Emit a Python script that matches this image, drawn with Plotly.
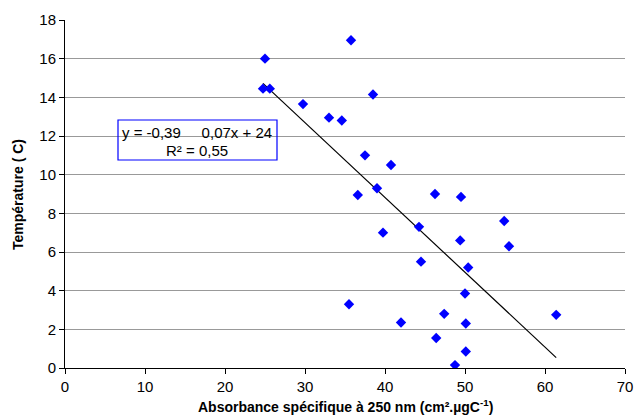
import plotly.graph_objects as go

absorbance = [25.0, 35.75, 24.75, 25.6, 38.5, 29.75, 33.0, 34.6, 37.5, 40.75,
              39.0, 36.6, 46.25, 49.5, 54.9, 39.75, 44.25, 49.4, 55.5, 44.5,
              50.4, 50.0, 35.5, 47.4, 61.4, 42.0, 50.1, 46.4, 50.1, 48.75]
temperature = [16.0, 16.95, 14.45, 14.45, 14.15, 13.65, 12.95, 12.8, 11.0, 10.5,
               9.3, 8.95, 9.0, 8.85, 7.6, 7.0, 7.3, 6.6, 6.3, 5.5,
               5.2, 3.85, 3.3, 2.8, 2.75, 2.35, 2.3, 1.55, 0.85, 0.15]
trend_slope = -0.387
trend_intercept = 24.3
x_ticks = [0, 10, 20, 30, 40, 50, 60, 70]
y_ticks = [0, 2, 4, 6, 8, 10, 12, 14, 16, 18]

x_min, x_max = min(absorbance), max(absorbance)
trend_x = [x_min, x_max]
trend_y = [trend_slope * v + trend_intercept for v in trend_x]

font = "Liberation Sans, Arial, sans-serif"
W, H = 635, 416
L, R, T, B = 65, 625, 20, 368

fig = go.Figure()
fig.add_trace(go.Scatter(x=trend_x, y=trend_y, mode="lines",
                         line=dict(color="black", width=1.2), hoverinfo="skip"))
fig.add_trace(go.Scatter(x=absorbance, y=temperature, mode="markers",
                         marker=dict(symbol="diamond", color="#0000FF", size=8,
                                     line=dict(width=0))))

fig.update_layout(
    width=W, height=H,
    margin=dict(l=L, r=W - R, t=T, b=H - B, autoexpand=False),
    paper_bgcolor="white", plot_bgcolor="white",
    showlegend=False,
    font=dict(family=font, size=15, color="black"),
    xaxis=dict(range=[0, 70], tickvals=x_ticks, showgrid=False, zeroline=False,
               showline=True, linecolor="black", linewidth=1, automargin=False,
               ticks="outside", ticklen=5, tickcolor="black",
               ticklabeloverflow="allow",
               tickfont=dict(size=15)),
    yaxis=dict(range=[0, 18], tickvals=y_ticks, showgrid=True, gridcolor="#999999",
               gridwidth=1, zeroline=False, automargin=False,
               showline=True, linecolor="black", linewidth=1,
               ticks="outside", ticklen=5, tickcolor="black",
               ticklabeloverflow="allow",
               tickfont=dict(size=15)),
)

def px(xp):
    return (xp - L) / (R - L)

def py(yp):
    return (B - yp) / (B - T)

fig.add_annotation(xref="paper", yref="paper", x=px(345), y=py(406),
                   text="<b>Absorbance spécifique à 250 nm (cm².µgC<sup>-1</sup>)</b>",
                   showarrow=False, xanchor="center", yanchor="middle", font=dict(size=14))
fig.add_annotation(xref="paper", yref="paper", x=px(18), y=py(195),
                   text="<b>Température ( C)</b>", textangle=-90,
                   showarrow=False, xanchor="center", yanchor="middle", font=dict(size=14))

fig.add_shape(type="rect", xref="paper", yref="paper",
              x0=px(118), x1=px(277), y0=py(160), y1=py(120),
              line=dict(color="#0000FF", width=1.2), fillcolor="rgba(0,0,0,0)")
fig.add_annotation(xref="paper", yref="paper", x=px(120), y=py(132),
                   text="y = -0,39     0,07x + 24", showarrow=False,
                   xanchor="left", yanchor="middle", font=dict(size=15))
fig.add_annotation(xref="paper", yref="paper", x=px(197), y=py(150),
                   text="R² = 0,55", showarrow=False,
                   xanchor="center", yanchor="middle", font=dict(size=15))

fig.write_html("out.html", config={"displayModeBar": False},
               post_script="document.body.style.margin='0';document.body.style.overflow='hidden';")
